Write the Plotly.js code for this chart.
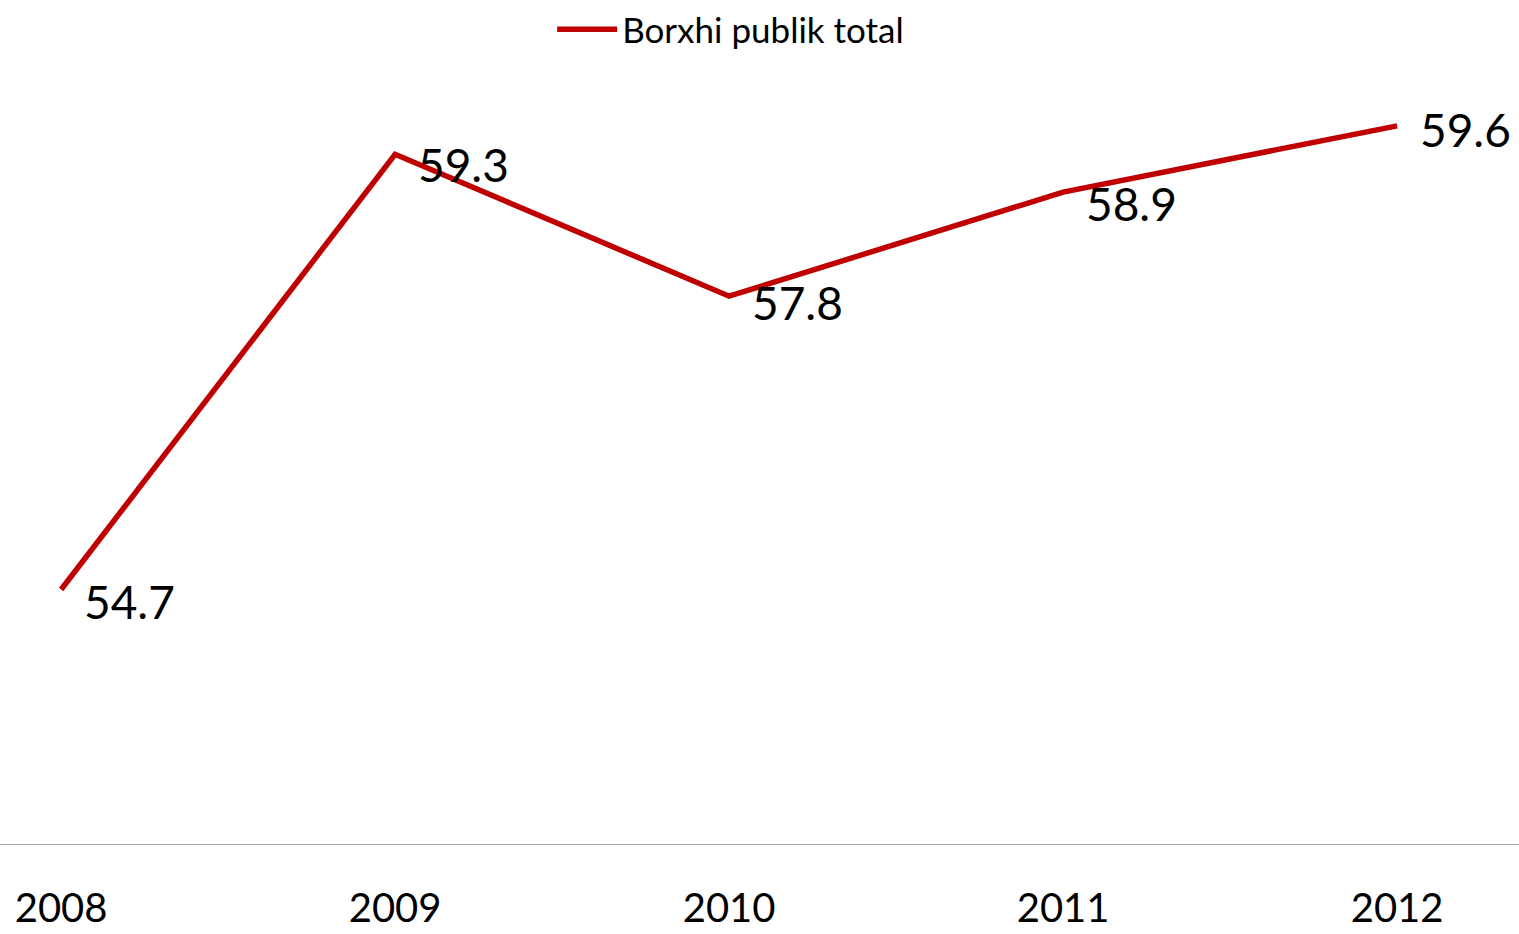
<!DOCTYPE html>
<html>
<head>
<meta charset="utf-8">
<script src="https://cdn.plot.ly/plotly-3.0.1.min.js"></script>
<style>html,body{margin:0;padding:0;background:#fff;}#chart{width:1519px;height:934px;}</style>
</head>
<body>
<div id="chart"></div>
<script>
const years = ['2008', '2009', '2010', '2011', '2012'];
const debt = [54.7, 59.3, 57.8, 58.9, 59.6];
const labels = ['54.7', '59.3', '57.8', '58.9', '59.6'];
const seriesName = 'Borxhi publik total';

const FONT = 'Lato, "Open Sans", sans-serif';
const labelShiftY = [-12, -10, -6, -11, -4];

const annotations = years.map((y, i) => ({
  x: i, y: debt[i], xref: 'x', yref: 'y',
  text: labels[i], showarrow: false,
  xanchor: 'left', yanchor: 'middle',
  xshift: 21, yshift: labelShiftY[i],
  font: {family: FONT, size: 46, color: '#000000'}
}));

Plotly.newPlot('chart', [{
  x: years, y: debt, type: 'scatter', mode: 'lines',
  name: seriesName,
  line: {color: '#C00000', width: 5.5},
  showlegend: true
}], {
  width: 1519, height: 934,
  margin: {l: 0, r: 0, t: 88, b: 89},
  paper_bgcolor: '#fff', plot_bgcolor: '#fff',
  showlegend: true,
  legend: {orientation: 'h', x: 0.481, xanchor: 'center', y: 1, yanchor: 'top', yref: 'container',
    itemwidth: 60, font: {family: FONT, size: 35, color: '#000'}, valign: 'top'},
  xaxis: {type: 'category', range: [-0.183, 4.365], showgrid: false, zeroline: false,
    showline: false, ticks: '', tickfont: {family: FONT, size: 40, color: '#000'}, ticklabelstandoff: 36},
  yaxis: {range: [52, 60], visible: false, showgrid: false, zeroline: false},
  shapes: [{type: 'line', xref: 'paper', yref: 'y', x0: 0, x1: 1, y0: 52, y1: 52,
    line: {color: '#8c8c8c', width: 1.5}}],
  annotations: annotations
}, {displayModeBar: false});
</script>
</body>
</html>
